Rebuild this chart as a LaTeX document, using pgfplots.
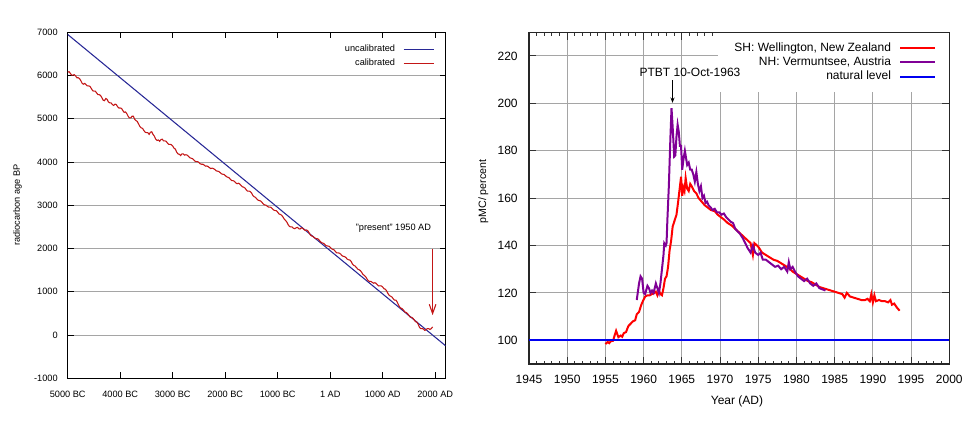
\documentclass[border=0pt]{standalone}
\usepackage{fontspec}
\setmainfont{Liberation Sans}
\usepackage{pgfplots}
\pgfplotsset{compat=1.18}
\usetikzlibrary{arrows.meta}

\definecolor{uncal}{RGB}{40,40,150}
\definecolor{cal}{RGB}{195,22,22}
\definecolor{shred}{RGB}{255,0,0}
\definecolor{nhpurple}{RGB}{128,0,150}
\definecolor{natblue}{RGB}{0,0,240}
\definecolor{gridgray}{RGB}{165,165,165}

% calendar year vs. radiocarbon age (BP)
\pgfplotstableread{
year age
-5000 6080
-4975 6090
-4950 6050
-4925 6010
-4900 6010
-4875 6020
-4850 5990
-4825 5950
-4800 5950
-4775 5930
-4750 5880
-4725 5820
-4700 5800
-4675 5820
-4650 5790
-4625 5760
-4600 5760
-4575 5750
-4550 5700
-4525 5650
-4500 5640
-4475 5640
-4450 5600
-4425 5560
-4400 5560
-4375 5540
-4350 5490
-4325 5430
-4300 5420
-4275 5470
-4250 5450
-4225 5390
-4200 5370
-4175 5370
-4150 5330
-4125 5310
-4100 5340
-4075 5330
-4050 5280
-4025 5250
-4000 5250
-3975 5240
-3950 5190
-3925 5150
-3900 5160
-3875 5120
-3850 5060
-3825 5020
-3800 5020
-3775 5060
-3750 5060
-3725 4990
-3700 4960
-3675 4940
-3650 4880
-3625 4820
-3600 4790
-3575 4780
-3550 4730
-3525 4690
-3500 4680
-3475 4680
-3450 4640
-3425 4690
-3400 4700
-3375 4640
-3350 4600
-3325 4530
-3300 4500
-3275 4510
-3250 4480
-3225 4520
-3200 4530
-3175 4490
-3150 4490
-3125 4480
-3100 4440
-3075 4410
-3050 4410
-3025 4400
-3000 4370
-2975 4320
-2950 4300
-2925 4230
-2900 4190
-2875 4180
-2850 4150
-2825 4190
-2800 4190
-2775 4160
-2750 4170
-2725 4160
-2700 4130
-2675 4100
-2650 4090
-2625 4080
-2600 4050
-2575 4020
-2550 4010
-2525 4010
-2500 3990
-2475 3960
-2450 3950
-2425 3950
-2400 3930
-2375 3905
-2350 3910
-2325 3895
-2300 3870
-2275 3850
-2250 3860
-2225 3850
-2200 3830
-2175 3800
-2150 3790
-2125 3785
-2100 3760
-2075 3730
-2050 3720
-2025 3715
-2000 3690
-1975 3660
-1950 3650
-1925 3635
-1900 3600
-1875 3570
-1850 3570
-1825 3555
-1800 3520
-1775 3500
-1750 3510
-1725 3495
-1700 3460
-1675 3430
-1650 3420
-1625 3400
-1600 3360
-1575 3330
-1550 3330
-1525 3320
-1500 3290
-1475 3230
-1450 3200
-1425 3185
-1400 3150
-1375 3120
-1350 3110
-1325 3100
-1300 3070
-1275 3030
-1250 3010
-1225 3005
-1200 2980
-1175 2960
-1150 2960
-1125 2950
-1100 2920
-1075 2890
-1050 2880
-1025 2875
-1000 2840
-975 2800
-950 2790
-925 2770
-900 2730
-875 2680
-850 2650
-825 2610
-800 2550
-775 2510
-750 2500
-725 2500
-700 2470
-675 2460
-650 2480
-625 2490
-600 2460
-575 2450
-550 2480
-525 2470
-500 2440
-475 2420
-450 2430
-425 2410
-400 2360
-375 2310
-350 2290
-325 2280
-300 2250
-275 2230
-250 2230
-225 2215
-200 2180
-175 2145
-150 2130
-125 2120
-100 2090
-75 2065
-50 2060
-25 2055
0 2030
25 1995
50 1980
75 1970
100 1930
125 1900
150 1900
175 1895
200 1870
225 1835
250 1820
275 1815
300 1790
325 1755
350 1740
375 1735
400 1700
425 1640
450 1610
475 1595
500 1560
525 1525
550 1510
575 1490
600 1450
625 1400
650 1380
675 1350
700 1300
725 1255
750 1240
775 1240
800 1220
825 1200
850 1210
875 1195
900 1160
925 1135
950 1140
975 1135
1000 1110
1025 1070
1050 1060
1075 1020
1100 960
1125 915
1150 900
1175 880
1200 840
1225 810
1250 810
1275 765
1300 700
1325 645
1350 620
1375 605
1400 570
1425 530
1450 520
1475 495
1500 450
1525 415
1550 410
1575 390
1600 350
1625 310
1650 300
1675 250
1700 180
1725 150
1750 150
1775 140
1800 110
1825 120
1850 150
1875 150
1900 130
1925 150
1950 190
}\calibrated

% Delta-14C in atmospheric CO2, southern hemisphere
\pgfplotstableread{
t pmc
1955.0 98.4
1955.3 99.3
1955.5 98.8
1955.7 99.6
1956.0 99.8
1956.2 102
1956.4 104
1956.7 101.3
1957.0 102
1957.2 101.5
1957.4 103
1957.7 103.5
1958.0 106
1958.3 107
1958.6 108
1958.9 108.5
1959.1 111
1959.4 112
1959.7 115
1959.9 116.5
1960.2 118.5
1960.5 119
1960.8 119
1961.1 119.5
1961.4 120
1961.6 120.5
1961.8 119
1962.0 121
1962.2 119.5
1962.4 119
1962.6 122
1962.8 126
1963.0 127
1963.2 131
1963.4 138
1963.6 142
1963.8 148
1964.0 150
1964.3 153
1964.5 158
1964.7 163.5
1964.9 169
1965.05 161
1965.2 164.5
1965.35 163
1965.5 168.5
1965.7 164
1965.9 163
1966.1 166
1966.3 165
1966.6 163
1966.9 162
1967.2 160
1967.6 158.5
1968.0 157
1968.4 156
1968.8 155
1969.3 154.5
1969.7 153
1970.1 152
1970.5 151
1971.0 149.5
1971.5 148.5
1972.0 147
1972.5 145.5
1973.0 144
1973.5 142.5
1974.0 141
1974.3 136
1974.5 141
1975.0 139.5
1975.5 137
1976.0 136
1976.5 135
1977.0 134
1977.5 133.5
1978.0 132.5
1978.5 131.5
1979.0 130.5
1979.5 129
1980.0 128
1980.5 127
1981.0 126
1981.5 125
1982.0 124.5
1982.5 123.5
1983.0 122.5
1983.5 122
1984.0 121.5
1984.5 121
1985.0 120.5
1985.5 120
1986.0 119.5
1986.3 118
1986.6 120
1987.0 118.5
1987.5 118
1988.0 117.5
1988.5 117
1989.0 117
1989.3 117.5
1989.6 116.5
1989.8 119.5
1990.0 116
1990.2 119
1990.4 116.5
1990.8 117
1991.2 116.5
1991.6 116.5
1992.0 116
1992.3 117
1992.5 115
1992.8 115.5
1993.1 114
1993.5 112.5
}\wellington

% Delta-14C in atmospheric CO2, northern hemisphere
\pgfplotstableread{
t pmc
1959.1 117
1959.4 124
1959.6 127
1959.8 126
1960.0 120
1960.2 119.5
1960.5 123
1960.7 122
1960.9 120
1961.1 121
1961.3 120
1961.6 124
1961.8 122
1962.0 120
1962.2 124
1962.4 130
1962.6 136
1962.7 141
1962.9 140
1963.0 141
1963.1 150
1963.3 165
1963.5 185
1963.65 198
1963.8 190
1963.9 184
1964.0 177.5
1964.15 178
1964.3 186
1964.45 191
1964.6 188
1964.75 182
1964.9 182
1965.05 172
1965.2 176
1965.4 180
1965.55 177
1965.7 174
1965.9 175
1966.1 172
1966.3 172
1966.5 170
1966.7 167
1966.9 171
1967.1 166
1967.3 163
1967.5 165
1967.7 160
1967.9 161
1968.1 158
1968.3 158.5
1968.5 157
1968.8 156
1969.0 155
1969.3 155.5
1969.6 154
1969.9 154
1970.2 153
1970.5 153.5
1970.8 152
1971.1 151
1971.4 150
1971.7 149.5
1972.0 147
1972.3 146
1972.6 145
1973.0 143
1973.3 141
1973.6 139
1974.0 137
1974.3 140
1974.6 137
1975.0 136
1975.3 137
1975.6 134
1976.0 134
1976.4 133
1976.8 132
1977.2 131
1977.6 131.5
1978.0 130
1978.4 131
1978.8 129
1979.0 133
1979.2 130
1979.5 131
1979.8 129
1980.2 127
1980.6 126
1981.0 125
1981.4 126
1981.8 124
1982.2 123
1982.6 124
1983.0 122
1983.4 121.5
1983.8 121
}\vermuntsee

\begin{document}
\begin{tikzpicture}
\useasboundingbox (0,0) rectangle (733.5pt,320.25pt);

% ---- left: calibration curve ----
\begin{axis}[
  at={(50.8pt,36.5pt)}, anchor=south west,
  scale only axis, width=283.5pt, height=259.5pt,
  xmin=-5000, xmax=2200, ymin=-1000, ymax=7000,
  xtick={-5000,-4000,...,2000},
  xticklabels={5000 BC,4000 BC,3000 BC,2000 BC,1000 BC,1 AD,1000 AD,2000 AD},
  ytick={-1000,0,...,7000},
  ymajorgrids, grid style={gridgray, line width=0.8pt},
  tick align=inside, major tick length=4.5pt,
  tick style={black, line width=0.75pt},
  axis line style={line width=1.1pt},
  /pgf/number format/1000 sep={},
  /pgf/number format/assume math mode=true,
  tick label style={font=\fontsize{6.9}{8}\selectfont},
  xticklabel style={yshift=-6pt},
  yticklabel style={xshift=-4pt},
  ylabel={radiocarbon age BP},
  ylabel style={at={(axis description cs:-0.133,0.5)}, anchor=center,
    font=\fontsize{6.9}{8}\selectfont},
  legend plot pos=right, legend cell align=right,
  legend image code/.code={\draw[#1] (0pt,0pt) -- (23pt,0pt);},
  legend style={at={(axis description cs:1,1)}, anchor=north east,
    draw=none, fill=none, inner xsep=8pt, inner ysep=7pt,
    font=\fontsize{6.9}{8}\selectfont, nodes={inner ysep=2.1pt},
    /tikz/every odd column/.append style={column sep=4pt}},
]
\addplot[uncal, line width=0.8pt] coordinates {(-5000,6950) (2200,-250)};
\addlegendentry{uncalibrated}
\addplot[cal, line width=0.8pt] table[x=year, y=age] {\calibrated};
\addlegendentry{calibrated}
\node[anchor=east, font=\fontsize{6.9}{8}\selectfont] at (axis cs:2010,2460) {"present" 1950 AD};
\draw[cal, line width=0.8pt, -{Straight Barb[length=7pt,width=5pt]}]
  (axis cs:1950,1985) -- (axis cs:1950,460);
\end{axis}

% ---- right: bomb carbon ----
\begin{axis}[
  at={(396.75pt,47.25pt)}, anchor=south west,
  scale only axis, width=315.2pt, height=248.8pt,
  xmin=1945, xmax=2000, ymin=90, ymax=230,
  xtick={1945,1950,...,2000}, minor x tick num=4,
  ytick={100,120,...,220},
  grid=major, grid style={gridgray, line width=0.8pt},
  tick align=inside, major tick length=5.5pt, minor tick length=2.5pt,
  tick style={black!80, line width=0.75pt},
  axis line style={line width=1.1pt, black!85},
  /pgf/number format/1000 sep={},
  /pgf/number format/assume math mode=true,
  tick label style={font=\fontsize{9}{11}\selectfont},
  xticklabel style={yshift=-5pt},
  yticklabel style={xshift=-5pt},
  xlabel={Year (AD)},
  xlabel style={at={(axis description cs:0.495,-0.1115)}, anchor=center,
    font=\fontsize{9}{11}\selectfont},
  ylabel={pMC/ percent},
  ylabel style={at={(axis description cs:-0.1087,0.52)}, anchor=center,
    font=\fontsize{8}{10}\selectfont},
  legend plot pos=right, legend cell align=right,
  legend image code/.code={\draw[#1] (0pt,0pt) -- (26pt,0pt);},
  legend style={at={(axis description cs:1,1)}, anchor=north east,
    draw=none, fill=white, inner xsep=10pt, inner ysep=6pt,
    font=\fontsize{9}{11}\selectfont, nodes={inner ysep=1.4pt},
    /tikz/every odd column/.append style={column sep=4pt}},
]
\addplot[shred, line width=1.5pt] table[x=t, y=pmc] {\wellington};
\addlegendentry{SH: Wellington, New Zealand}
\addplot[nhpurple, line width=1.5pt] table[x=t, y=pmc] {\vermuntsee};
\addlegendentry{NH: Vermuntsee, Austria}
\addplot[natblue, line width=1.5pt] coordinates {(1945,100) (2000,100)};
\addlegendentry{natural level}
\coordinate (ptbt) at (axis cs:1966.07,213.2);
\draw[black, line width=0.7pt, -{Stealth[length=4pt,width=3pt]}]
  (axis cs:1963.78,209.8) -- (axis cs:1963.78,200.2);
\end{axis}
% the test label is set after the axis so the legend box does not hide it
\node[font=\fontsize{9}{11}\selectfont] at (ptbt) {PTBT 10-Oct-1963};
\end{tikzpicture}
\end{document}
